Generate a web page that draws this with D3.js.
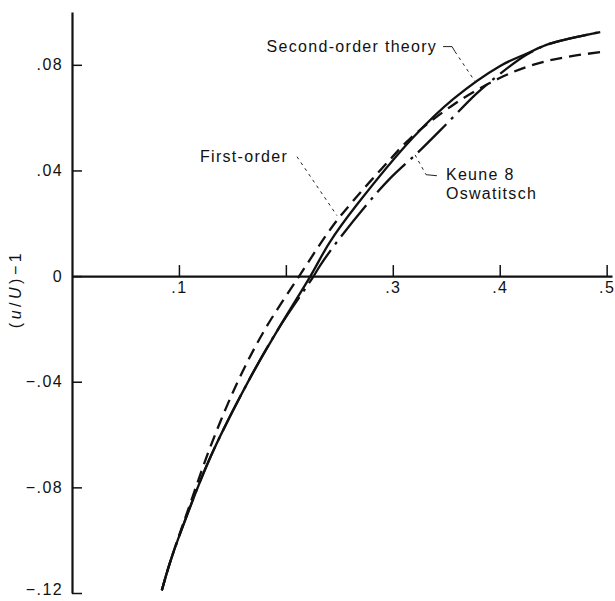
<!DOCTYPE html>
<html>
<head>
<meta charset="utf-8">
<script src="https://cdn.jsdelivr.net/npm/d3@7/dist/d3.min.js"></script>
<style>
  body { margin: 0; background: #fff; }
  svg { display: block; font-family: "Liberation Sans", Arial, sans-serif; }
  .axis path, .axis line { stroke: #111; }
  .axis path { stroke-width: 2.2; }
  .axis line { stroke-width: 1.5; }
  .axis text { font-size: 16px; fill: #111; letter-spacing: 1.4px; font-family: "Liberation Sans", Arial, sans-serif; }
  .curve { fill: none; stroke: #111; stroke-width: 2.3; }
  .leader { fill: none; stroke: #222; stroke-width: 1; }
  .note { font-size: 16px; fill: #111; letter-spacing: 1.3px; }
</style>
</head>
<body>
<div id="chart"></div>
<script>
// second-order theory (solid)
var xSecond = [0.084, 0.092, 0.109, 0.130, 0.166, 0.193, 0.223, 0.241, 0.266, 0.319, 0.357, 0.400, 0.425, 0.447, 0.494];
var ySecond = [-0.119, -0.108, -0.089, -0.068, -0.039, -0.020, 0.000, 0.0128, 0.0268, 0.0525, 0.0672, 0.0795, 0.0842, 0.0880, 0.0924];

// first-order (dashed)
var xFirst = [0.084, 0.092, 0.109, 0.130, 0.155, 0.180, 0.2125, 0.243, 0.263, 0.296, 0.316, 0.357, 0.400, 0.431, 0.460, 0.494];
var yFirst = [-0.119, -0.108, -0.088, -0.064, -0.040, -0.0205, 0.000, 0.0185, 0.0285, 0.0435, 0.0520, 0.0650, 0.0750, 0.0800, 0.0828, 0.0848];

// Keune & Oswatitsch (long dash - dot)
var xKeune = [0.084, 0.092, 0.109, 0.130, 0.166, 0.193, 0.226, 0.232, 0.2475, 0.274, 0.2975, 0.3255, 0.350, 0.378, 0.400, 0.425, 0.447, 0.494];
var yKeune = [-0.119, -0.108, -0.089, -0.068, -0.039, -0.020, 0.000, 0.0040, 0.0128, 0.0263, 0.0370, 0.0476, 0.0575, 0.0690, 0.0765, 0.0838, 0.0880, 0.0924];

var xTicks = [0.1, 0.2, 0.3, 0.4, 0.5];
var xTickLabels = [".1", "", ".3", ".4", ".5"];
var yTicks = [-0.12, -0.08, -0.04, 0, 0.04, 0.08];
var yTickLabels = ["\u2212.12", "\u2212.08", "\u2212.04", "0", ".04", ".08"];

var noteText = ["Second-order theory", "First-order", "Keune 8", "Oswatitsch"];
var noteX = [0.182, 0.1197, 0.3497, 0.3497];
var noteY = [0.0849, 0.0433, 0.0365, 0.0293];

// leader lines, in data units
var leaderSecond = [[0.347, 0.0869], [0.3554, 0.0869], [0.3582, 0.0850], [0.3769, 0.0737]];
var leaderFirst = [[0.2104, 0.0452], [0.2478, 0.0229]];
var leaderKeune = [[0.3208, 0.0459], [0.3311, 0.0384], [0.3413, 0.0380]];

var chart = (function (d3) {
  var width = 615, height = 601;

  var svg = d3.select("#chart").append("svg")
    .attr("width", width)
    .attr("height", height);

  var x = d3.scaleLinear().domain([0, 0.505]).range([72, 612]);
  var y = d3.scaleLinear().domain([-0.12, 0.1]).range([593, 12]);

  function pts (xs, ys) {
    return xs.map(function (d, i) { return [d, ys[i]]; });
  }

  var line = d3.line()
    .x(function (d) { return x(d[0]); })
    .y(function (d) { return y(d[1]); })
    .curve(d3.curveCatmullRom.alpha(0.5));

  var straight = d3.line()
    .x(function (d) { return x(d[0]); })
    .y(function (d) { return y(d[1]); });

  // axes
  var yAxis = svg.append("g")
    .attr("class", "axis")
    .attr("transform", "translate(" + x(0) + ",0)")
    .call(d3.axisLeft(y)
      .tickValues(yTicks)
      .tickFormat(function (d, i) { return yTickLabels[i]; })
      .tickSize(-10)
      .tickPadding(9)
      .tickSizeOuter(0));

  // bottom label sits a little higher so it stays inside the frame
  yAxis.selectAll(".tick text")
    .filter(function (d) { return d === yTicks[0]; })
    .attr("dy", "0.1em");

  svg.append("g")
    .attr("class", "axis")
    .attr("transform", "translate(0," + y(0) + ")")
    .call(d3.axisBottom(x)
      .tickValues(xTicks)
      .tickFormat(function (d, i) { return xTickLabels[i]; })
      .tickSize(-11)
      .tickPadding(6)
      .tickSizeOuter(0));

  svg.selectAll(".axis .domain").attr("fill", "none");

  // y title
  var t = svg.append("text")
    .attr("transform", "translate(21,289) rotate(-90)")
    .attr("text-anchor", "middle")
    .attr("class", "note")
    .style("letter-spacing", "3.5px");
  t.append("tspan").text("(");
  t.append("tspan").style("font-style", "italic").text("u");
  t.append("tspan").text("/");
  t.append("tspan").style("font-style", "italic").text("U");
  t.append("tspan").text(")\u22121");

  // curves
  svg.append("path")
    .datum(pts(xKeune, yKeune))
    .attr("class", "curve")
    .attr("stroke-dasharray", "40,7,3,7")
    .attr("d", line);

  svg.append("path")
    .datum(pts(xFirst, yFirst))
    .attr("class", "curve")
    .attr("stroke-dasharray", "12,7")
    .attr("d", line);

  svg.append("path")
    .datum(pts(xSecond, ySecond))
    .attr("class", "curve")
    .attr("d", line);

  // notes
  svg.selectAll("text.lbl")
    .data(noteText)
  .enter().append("text")
    .attr("class", "note lbl")
    .attr("x", function (d, i) { return x(noteX[i]); })
    .attr("y", function (d, i) { return y(noteY[i]); })
    .text(function (d) { return d; });

  // leaders
  svg.append("path")
    .datum(leaderSecond.slice(0, 3))
    .attr("class", "leader")
    .attr("d", straight);
  svg.append("path")
    .datum(leaderSecond.slice(2))
    .attr("class", "leader")
    .attr("stroke-dasharray", "3,4")
    .attr("d", straight);
  svg.append("path")
    .datum(leaderFirst)
    .attr("class", "leader")
    .attr("stroke-dasharray", "3,4")
    .attr("d", straight);
  svg.append("path")
    .datum(leaderKeune.slice(0, 2))
    .attr("class", "leader")
    .attr("stroke-dasharray", "3,4")
    .attr("d", straight);
  svg.append("path")
    .datum(leaderKeune.slice(1))
    .attr("class", "leader")
    .attr("d", straight);

  return svg;
})(d3);
</script>
</body>
</html>
